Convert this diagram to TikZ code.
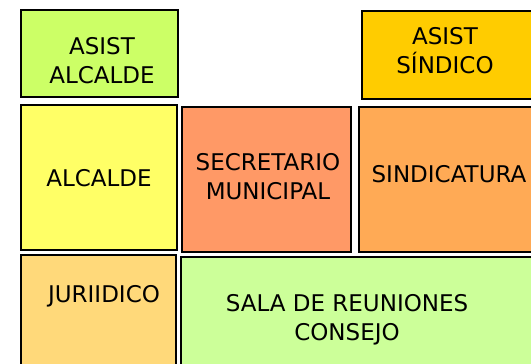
\documentclass[tikz,border=0pt]{standalone}
\usepackage{fontspec}
\setmainfont{DejaVu Sans}
\usetikzlibrary{positioning}
\definecolor{asistalc}{HTML}{CCFF66}
\definecolor{asistsin}{HTML}{FFCC00}
\definecolor{alcalde}{HTML}{FFFF66}
\definecolor{secret}{HTML}{FF9966}
\definecolor{sindic}{HTML}{FFAA55}
\definecolor{juridico}{HTML}{FFD97A}
\definecolor{sala}{HTML}{CCFF99}

\begin{document}
\begin{tikzpicture}[x=1pt,y=-1pt,
    room/.style={draw=black,line width=2pt,inner sep=0pt,anchor=north west},
    lbl/.style={font=\fontsize{23}{29}\selectfont,align=center,inner sep=0pt}]
  \useasboundingbox (0,0) rectangle (531,364);
  % boxes
  \node[room,fill=asistalc,minimum width=157pt,minimum height=87pt] (asistalcalde) at (20,9) {};
  \node[room,fill=asistsin,minimum width=190pt,minimum height=88pt] (asistsindico) at (361,10) {};
  \node[room,fill=alcalde,minimum width=156pt,minimum height=145pt] (alcalde) at (20,104) {};
  \node[room,fill=secret,minimum width=169pt,minimum height=145pt] (secretario) at (181,106) {};
  \node[room,fill=sindic,minimum width=190pt,minimum height=145pt] (sindicatura) at (358,106) {};
  \node[room,fill=juridico,minimum width=155pt,minimum height=130pt] (juridico) at (20,254) {};
  \node[room,fill=sala,minimum width=370pt,minimum height=130pt] (sala) at (180,256) {};
  % labels
  \node[lbl] (tasistalcalde) at (102,61) {ASIST\\ALCALDE};
  \node[lbl] (tasistsindico) at (445,51) {ASIST\\SÍNDICO};
  \node[lbl] (talcalde) at (99,178) {ALCALDE};
  \node[lbl] (tsecretario) at (268,177) {SECRETARIO\\MUNICIPAL};
  \node[lbl] (tsindicatura) at (449,174) {SINDICATURA};
  \node[lbl] (tjuridico) at (104,296) {JURIIDICO};
  \node[lbl] (tsala) at (347,320) {SALA DE REUNIONES\\CONSEJO};
\end{tikzpicture}
\end{document}
